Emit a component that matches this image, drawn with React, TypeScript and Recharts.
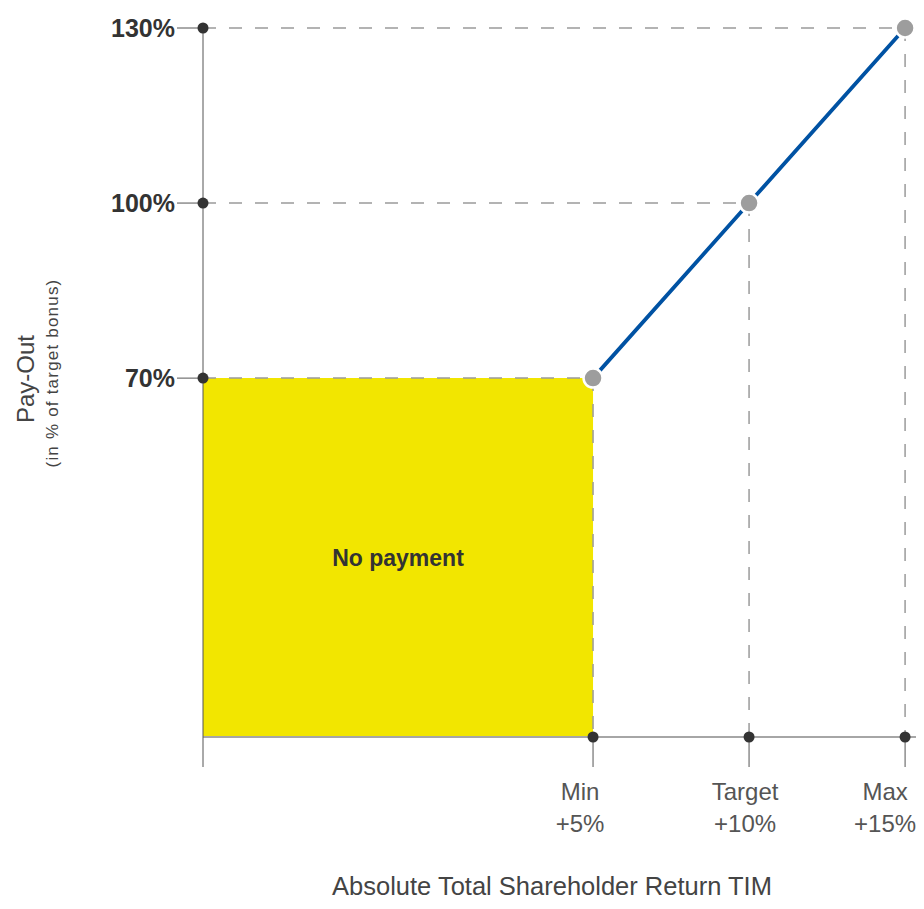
import React from 'react';
import {
  ComposedChart,
  Line,
  XAxis,
  YAxis,
  ReferenceArea,
  ReferenceLine,
  ReferenceDot,
  Label,
} from 'recharts';

// performance (absolute TSR, %) vs pay-out (% of target bonus)
const tsrLevels = [5, 10, 15];
const payoutLevels = [70, 100, 130];
const levelNames = ['Min', 'Target', 'Max'];
const levelLabels = ['+5%', '+10%', '+15%'];

// schematic axis ranges
const X_START = -7.5;
const X_END = 15.35;
const Y_BOTTOM = 8.5;
const Y_TOP = 130;

// small horizontal nudges of the tick captions (layout only)
const captionShift = [-13, -4, -20];

const curve = tsrLevels.map((x, i) => ({ x, y: payoutLevels[i] }));

const FONT = '"Liberation Sans", Arial, Helvetica, sans-serif';
const DASH = '#9b9b9b';
const DARK = '#333333';

const XTick = (props: any) => {
  const { x, y, payload } = props;
  const i = tsrLevels.indexOf(payload.value);
  if (i < 0) return null;
  const cx = x + captionShift[i];
  return (
    <g>
      <text x={cx} y={y + 31} textAnchor="middle" fontSize={24} fill="#555" fontFamily={FONT}>
        {levelNames[i]}
      </text>
      <text x={cx} y={y + 63} textAnchor="middle" fontSize={24} fill="#555" fontFamily={FONT}>
        {levelLabels[i]}
      </text>
    </g>
  );
};

const PayoutDot = (props: any) => {
  const { cx, cy, index } = props;
  return <circle key={`d-${index}`} cx={cx} cy={cy} r={9.5} fill="#9d9d9d" stroke="#fff" strokeWidth={2.5} />;
};

export default function App() {
  return (
    <div style={{ width: 908, height: 893, fontFamily: FONT, overflow: 'hidden' }}>
      <style>{'html, body { overflow: hidden; }'}</style>
      <ComposedChart
        width={908}
        height={893}
        data={curve}
        margin={{ top: 20, right: 0, bottom: 34, left: 0 }}
      >
        <ReferenceArea
          x1={X_START}
          x2={tsrLevels[0]}
          y1={Y_BOTTOM}
          y2={payoutLevels[0]}
          fill="#f2e600"
          fillOpacity={1}
          stroke="none"
          ifOverflow="visible"
        >
          <Label
            value="No payment"
            position="center"
            fontSize={23}
            fontWeight="bold"
            fill={DARK}
            fontFamily={FONT}
          />
        </ReferenceArea>

        {tsrLevels.map((xv, i) => (
          <ReferenceLine
            key={`h-${xv}`}
            segment={[
              { x: X_START, y: payoutLevels[i] },
              { x: xv, y: payoutLevels[i] },
            ]}
            stroke={DASH}
            strokeWidth={1.5}
            strokeDasharray="13 13"
            ifOverflow="visible"
          />
        ))}
        {tsrLevels.map((xv, i) => (
          <ReferenceLine
            key={`v-${xv}`}
            segment={[
              { x: xv, y: payoutLevels[i] },
              { x: xv, y: Y_BOTTOM },
            ]}
            stroke={DASH}
            strokeWidth={1.5}
            strokeDasharray="13 13"
            ifOverflow="visible"
          />
        ))}

        <XAxis
          dataKey="x"
          type="number"
          domain={[X_START, X_END]}
          ticks={[X_START, ...tsrLevels]}
          height={130}
          tickSize={30}
          axisLine={{ stroke: '#a6a6a6', strokeWidth: 2 }}
          tickLine={{ stroke: '#555', strokeWidth: 1 }}
          tick={<XTick />}
          interval={0}
        >
          <Label
            content={(p: any) => (
              <text
                x={p.viewBox.x + 349}
                y={p.viewBox.y + 158}
                textAnchor="middle"
                fontSize={25.5}
                fill="#444"
                fontFamily={FONT}
              >
                Absolute Total Shareholder Return TIM
              </text>
            )}
          />
        </XAxis>
        <YAxis
          dataKey="y"
          type="number"
          domain={[Y_BOTTOM, Y_TOP]}
          ticks={payoutLevels}
          width={195}
          tickSize={26}
          tickMargin={2}
          axisLine={{ stroke: '#555', strokeWidth: 1 }}
          tickLine={{ stroke: '#555', strokeWidth: 1 }}
          tickFormatter={(v: number) => `${v}%`}
          tick={{ fontSize: 25, fontWeight: 'bold', fill: DARK, fontFamily: FONT }}
          interval={0}
        >
          <Label
            content={() => (
              <g>
                <text
                  transform="translate(26, 371) rotate(-90)"
                  textAnchor="middle"
                  fontSize={24}
                  fill="#444"
                  fontFamily={FONT}
                >
                  Pay-Out
                </text>
                <text
                  transform="translate(50, 365) rotate(-90)"
                  textAnchor="middle"
                  fontSize={17}
                  letterSpacing={1.2}
                  fill="#444"
                  fontFamily={FONT}
                >
                  (in % of target bonus)
                </text>
              </g>
            )}
          />
        </YAxis>

        <Line
          type="linear"
          dataKey="y"
          stroke="#0052a3"
          strokeWidth={3.8}
          dot={<PayoutDot />}
          activeDot={false}
          isAnimationActive={false}
        />

        {payoutLevels.map((v) => (
          <ReferenceDot key={`yd-${v}`} x={X_START} y={v} r={5.5} fill={DARK} stroke="none" ifOverflow="visible" />
        ))}
        {tsrLevels.map((v) => (
          <ReferenceDot key={`xd-${v}`} x={v} y={Y_BOTTOM} r={5.5} fill={DARK} stroke="none" ifOverflow="visible" />
        ))}
      </ComposedChart>
    </div>
  );
}
